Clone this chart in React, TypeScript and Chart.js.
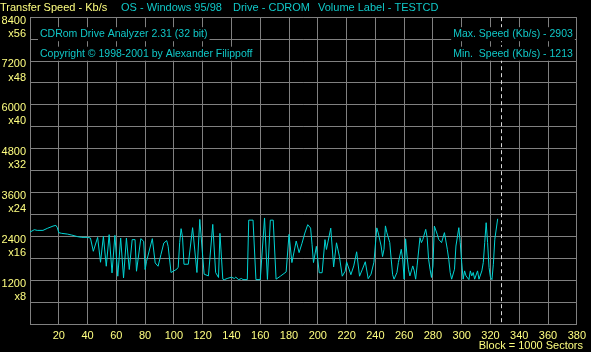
import React, { useEffect, useRef } from "react";
import { Chart, registerables } from "chart.js";

Chart.register(...registerables);

// ---- data ----
const blocks = [
  0, 3, 5, 9, 12, 16, 18, 19, 20, 22, 26, 29, 33, 36, 40,
  42, 44, 47, 49, 51, 53, 55, 57, 59, 61, 63, 65, 67, 69, 71, 73, 74, 77, 79, 80, 81, 85, 87, 89, 91, 93, 95, 96, 98,
  102, 103, 104, 105, 106, 107, 110, 113, 116, 118, 121, 124, 127, 129, 131, 132, 134, 135, 137, 140, 142, 143, 145, 147, 148,
  151, 152, 155, 157, 160, 163, 165, 167, 169, 171, 174, 178, 180, 182, 185, 187, 189, 191, 193, 195, 196, 197, 199,
  201, 203, 205, 206, 209, 211, 213, 215, 217, 219, 220, 223, 225, 227, 229, 231, 233, 235, 237, 239, 241, 242, 244, 245,
  246, 247, 248, 250, 251, 252, 253, 255, 256, 258, 259, 260, 261, 262, 263, 264, 265, 266, 267, 268, 269, 271, 272, 273,
  275, 276, 277, 278, 279, 280, 281, 283, 284, 286, 288, 290, 291, 292, 293, 295, 296, 298, 299, 300, 301, 302, 303, 305,
  306, 307, 308, 309, 311, 312, 314, 315, 316, 317, 318, 319, 320, 321, 322, 323, 325,
];
const speeds = [
  2517, 2582, 2563, 2563, 2618, 2681, 2700, 2637, 2501, 2482, 2462, 2435, 2392, 2372, 2372,
  2353, 1991, 2372, 1691, 2400, 1582, 2446, 1399, 2427, 1309, 2353, 1263, 2353, 1492, 2310, 2310, 1445, 2337, 2263, 1492, 1718, 2337, 1672, 1582, 1901, 2217, 2283, 2127, 1410,
  1500, 1554, 2228, 2610, 2372, 1636, 1636, 2637, 1410, 2863, 1364, 1317, 2727, 1410, 1274, 2482, 1227, 1213, 1246, 1282, 1246, 1282, 1215, 1246, 1215,
  1215, 2844, 2844, 1215, 1215, 2903, 1219, 2844, 2844, 1227, 1309, 1426, 2454, 1682, 2272, 1955, 2209, 2490, 2719, 2626, 2182, 1682, 2127,
  1404, 1404, 2310, 2040, 2623, 1563, 2223, 1854, 1309, 1445, 1704, 1350, 1590, 1977, 1309, 1500, 1704, 1241, 1364, 1691, 2632, 2495, 2135, 1846,
  2045, 2686, 2501, 2228, 1773, 1350, 1227, 1410, 1682, 2045, 1773, 1227, 2332, 1863, 1500, 1317, 1454, 1590, 1454, 1227, 1590, 2364, 2228, 2318,
  2591, 2364, 1773, 1500, 1274, 1590, 2681, 2454, 2318, 2228, 2501, 2045, 1773, 1410, 1227, 1500, 2135, 2637, 2228, 1682, 1227, 1454, 1317, 1215,
  1454, 1317, 1410, 1227, 1454, 1227, 1454, 1682, 2228, 2773, 2228, 1546, 1274, 1215, 1636, 2318, 2880,
];

const xTickValues = [20, 40, 60, 80, 100, 120, 140, 160, 180, 200, 220, 240, 260, 280, 300, 320, 340, 360, 380];
const yTickValues = [1200, 2400, 3600, 4800, 6000, 7200, 8400];
const ySpeedLabels = ["1200", "2400", "3600", "4800", "6000", "7200", "8400"];
const yMultLabels = ["x8", "x16", "x24", "x32", "x40", "x48", "x56"];
const endBlock = 327;

const headerLeft = "Transfer Speed - Kb/s";
const headerItems = ["OS - Windows 95/98", "Drive - CDROM", "Volume Label - TESTCD"];
const infoLeft = ["CDRom Drive Analyzer 2.31 (32 bit)", "Copyright \u00A9 1998-2001 by Alexander Filippoff"];
const infoRight = ["Max. Speed (Kb/s) - 2903", "Min.  Speed (Kb/s) - 1213"];
const footnote = "Block = 1000 Sectors";

// ---- style ----
const YELLOW = "#ffff80";
const CYAN = "#10c8c8";
const LINE = "#00d4d4";
const GRID = "#808080";
const FONT_FAMILY = "'Liberation Sans', Arial, sans-serif";
const FONT_SIZE = 11;
const INFO_FONT_SIZE = 10.5;

const overlayPlugin = {
  id: "overlay",
  beforeDatasetsDraw(chart: any) {
    const { ctx, chartArea, scales } = chart;
    ctx.save();
    // end-of-disc dashed marker
    const xe = Math.round(scales.x.getPixelForValue(endBlock)) + 0.5;
    ctx.strokeStyle = "#d8d8d8";
    ctx.lineWidth = 1;
    ctx.setLineDash([4, 3]);
    ctx.beginPath();
    ctx.moveTo(xe, chartArea.top);
    ctx.lineTo(xe, chartArea.bottom);
    ctx.stroke();
    ctx.setLineDash([]);

    ctx.font = `${INFO_FONT_SIZE}px ${FONT_FAMILY}`;
    ctx.textBaseline = "middle";
    const rows = [chartArea.top + 17, chartArea.top + 36.5];
    infoLeft.forEach((t, i) => {
      const w = ctx.measureText(t).width;
      const x = chartArea.left + 10;
      ctx.fillStyle = "#000";
      ctx.fillRect(x - 2, rows[i] - 7, w + 4, 14);
      ctx.fillStyle = CYAN;
      ctx.textAlign = "left";
      ctx.fillText(t, x, rows[i]);
    });
    infoRight.forEach((t, i) => {
      const w = ctx.measureText(t).width;
      const x = chartArea.right - 4;
      ctx.fillStyle = "#000";
      ctx.fillRect(x - w - 2, rows[i] - 7, w + 4, 14);
      ctx.fillStyle = CYAN;
      ctx.textAlign = "right";
      ctx.fillText(t, x, rows[i]);
    });
    ctx.restore();
  },
  afterDraw(chart: any) {
    const { ctx, width, height } = chart;
    ctx.save();
    ctx.font = `${FONT_SIZE}px ${FONT_FAMILY}`;
    ctx.textBaseline = "middle";
    ctx.textAlign = "left";
    ctx.fillStyle = YELLOW;
    ctx.fillText(headerLeft, 0, 7.5);
    ctx.fillStyle = CYAN;
    const xs = [121, 233, 318];
    headerItems.forEach((t, i) => ctx.fillText(t, xs[i], 7.5));
    ctx.fillStyle = YELLOW;
    ctx.textAlign = "right";
    ctx.fillText(footnote, width - 8, height - 6.5);
    ctx.restore();
  },
};

export default function App() {
  const ref = useRef<HTMLCanvasElement | null>(null);
  useEffect(() => {
    if (!ref.current) return;
    const points = blocks.map((b, i) => ({ x: b, y: speeds[i] }));
    const tickFont = { family: FONT_FAMILY, size: FONT_SIZE };
    const chart = new Chart(ref.current, {
      type: "line",
      data: {
        datasets: [
          {
            data: points,
            borderColor: LINE,
            borderWidth: 1,
            pointRadius: 0,
            tension: 0,
            fill: false,
          },
        ],
      },
      options: {
        animation: false,
        responsive: false,
        devicePixelRatio: 1,
        layout: { padding: { top: 15, right: 10, left: 0, bottom: 0 } },
        plugins: { legend: { display: false }, tooltip: { enabled: false }, title: { display: false } },
        scales: {
          x: {
            type: "linear",
            min: 0,
            max: 380,
            grid: { color: GRID, drawTicks: false, lineWidth: 1 },
            border: { color: GRID },
            ticks: {
              stepSize: 20,
              autoSkip: false,
              maxRotation: 0,
              padding: 5,
              color: YELLOW,
              font: tickFont,
              callback: (v: any) => (xTickValues.includes(v) ? String(v) : ""),
            },
            afterFit: (s: any) => {
              s.height = 28;
            },
          },
          y: {
            min: 0,
            max: 8400,
            grid: { color: GRID, drawTicks: false, lineWidth: 1 },
            border: { color: GRID },
            ticks: {
              stepSize: 600,
              autoSkip: false,
              padding: 4,
              labelOffset: 10,
              color: YELLOW,
              font: tickFont,
              callback: (v: any) => {
                const i = yTickValues.indexOf(v);
                return i >= 0 ? [ySpeedLabels[i], yMultLabels[i]] : "";
              },
            },
            afterFit: (s: any) => {
              s.width = 30;
            },
          },
        },
      },
      plugins: [overlayPlugin],
    });
    return () => chart.destroy();
  }, []);

  return (
    <div style={{ position: "fixed", left: 0, top: 0, width: 591, height: 352, background: "#000" }}>
      <canvas ref={ref} width={591} height={352} style={{ display: "block", width: 591, height: 352 }} />
    </div>
  );
}
